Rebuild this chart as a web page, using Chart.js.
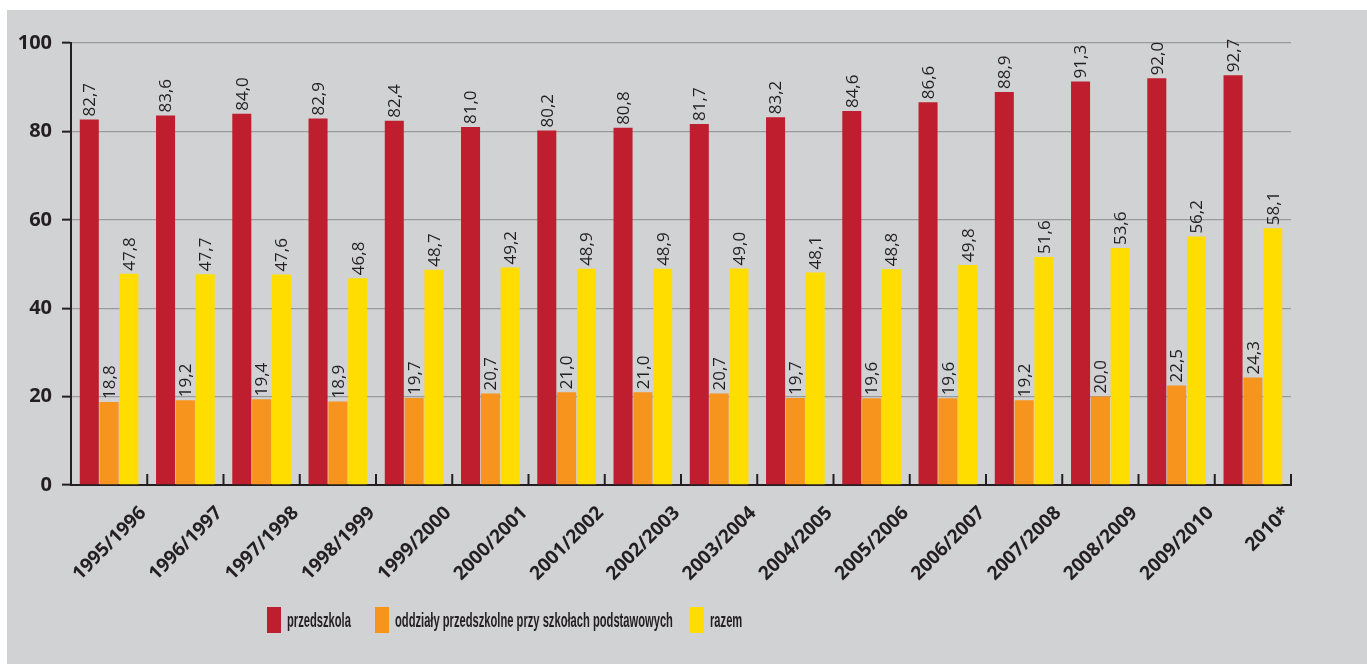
<!DOCTYPE html>
<html>
<head>
<meta charset="utf-8">
<script src="https://cdn.jsdelivr.net/npm/chart.js@4.4.0/dist/chart.umd.min.js"></script>
<style>
  body { margin: 0; background: #ffffff; }
  #panel { position: absolute; left: 7px; top: 10px; width: 1360px; height: 654px; background: #d1d2d4; }
  #wrap { position: absolute; left: 0; top: 0; width: 1367px; height: 664px; }
  #legenda { position: absolute; left: 267px; top: 607px; height: 26px; display: flex; align-items: center;
    font-family: 'Liberation Sans', Arial, sans-serif; font-weight: bold;
    font-size: 20px; color: #231f20; white-space: nowrap; }
  #legenda .box { width: 14px; height: 26px; display: inline-block; margin-right: 6px; }
  #legenda .item { display: flex; align-items: center; }
  #legenda .txt { display: inline-block; transform-origin: left center; }
</style>
</head>
<body>
<div id="panel"></div>
<div id="wrap"><canvas id="myChart" width="1367" height="664"></canvas></div>
<div id="legenda"></div>
<script>
const lata = ['1995/1996','1996/1997','1997/1998','1998/1999','1999/2000','2000/2001','2001/2002','2002/2003',
  '2003/2004','2004/2005','2005/2006','2006/2007','2007/2008','2008/2009','2009/2010','2010*'];
const przedszkola = [82.7,83.6,84.0,82.9,82.4,81.0,80.2,80.8,81.7,83.2,84.6,86.6,88.9,91.3,92.0,92.7];
const oddzialy = [18.8,19.2,19.4,18.9,19.7,20.7,21.0,21.0,20.7,19.7,19.6,19.6,19.2,20.0,22.5,24.3];
const razem = [47.8,47.7,47.6,46.8,48.7,49.2,48.9,48.9,49.0,48.1,48.8,49.8,51.6,53.6,56.2,58.1];
const nazwy = ['przedszkola','oddziały przedszkolne przy szkołach podstawowych','razem'];
const kolory = ['#be1e2d','#f7941d','#ffdd00'];
const osY = [0,20,40,60,80,100];

const ciemny = '#231f20';

// podpisy wartosci nad slupkami
const etykiety = {
    id: 'etykiety',
    afterDatasetsDraw(chart) {
        const ctx = chart.ctx;
        ctx.save();
        ctx.font = '17px "Open Sans"';
        ctx.fillStyle = ciemny;
        ctx.textAlign = 'left';
        ctx.textBaseline = 'middle';
        chart.data.datasets.forEach((ds, i) => {
            chart.getDatasetMeta(i).data.forEach((bar, j) => {
                ctx.save();
                ctx.translate(bar.x + 1, bar.y - 3);
                ctx.rotate(-Math.PI / 2);
                ctx.fillText(ds.data[j].toFixed(1).replace('.', ','), 0, 0);
                ctx.restore();
            });
        });
        ctx.restore();
    }
};

// kreski na osi X miedzy latami
const kreski = {
    id: 'kreski',
    afterDraw(chart) {
        const ctx = chart.ctx;
        const x = chart.scales.x;
        const y0 = chart.scales.y.getPixelForValue(0);
        const w = x.getPixelForValue(1) - x.getPixelForValue(0);
        ctx.save();
        ctx.strokeStyle = ciemny;
        ctx.lineWidth = 2;
        for (let i = 0; i < lata.length; i++) {
            const px = x.getPixelForValue(i) + w / 2;
            ctx.beginPath();
            ctx.moveTo(px, y0 - 11);
            ctx.lineTo(px, y0);
            ctx.stroke();
        }
        ctx.restore();
    }
};

const data = {
    labels: lata,
    datasets: [
        { label: nazwy[0], data: przedszkola, backgroundColor: kolory[0] },
        { label: nazwy[1], data: oddzialy, backgroundColor: kolory[1] },
        { label: nazwy[2], data: razem, backgroundColor: kolory[2] }
    ]
};

const config = {
    type: 'bar',
    data,
    options: {
        responsive: false,
        animation: false,
        layout: { padding: { left: 0, top: 43, right: 76, bottom: 0 } },
        datasets: { bar: { categoryPercentage: 0.78, barPercentage: 0.96 } },
        plugins: { legend: { display: false }, tooltip: { enabled: false } },
        scales: {
            x: {
                grid: { display: false, drawTicks: false },
                border: { display: true, color: ciemny, width: 2 },
                ticks: {
                    color: ciemny, font: { family: 'Open Sans', size: 19, weight: 'bold' },
                    minRotation: 45, maxRotation: 45, autoSkip: false, labelOffset: 34, padding: 17
                },
                afterFit: s => { s.height = 179; }
            },
            y: {
                min: 0, max: 100,
                afterBuildTicks: s => { s.ticks = osY.map(v => ({ value: v })); },
                grid: { color: '#999a9c', lineWidth: 1.3, tickColor: ciemny, tickWidth: 2, tickLength: 9,
                    drawTicks: true },
                border: { display: true, color: ciemny, width: 2 },
                ticks: { color: ciemny, font: { family: 'Open Sans', size: 20, weight: 'bold' }, padding: 10 },
                afterFit: s => { s.width = 71; }
            }
        }
    },
    plugins: [etykiety, kreski]
};

const myChart = new Chart(document.getElementById('myChart'), config);

// legenda w html, tekst zwezony jak w oryginale (krój condensed)
const leg = document.getElementById('legenda');
const odstepy = [24, 17, 0];
const items = nazwy.map((n, i) => {
    const el = document.createElement('span');
    el.className = 'item';
    el.innerHTML = '<span class="box" style="background:' + kolory[i] + '"></span><span class="txt">' + n + '</span>';
    leg.appendChild(el);
    return el;
});
const dlugi = items[1].querySelector('.txt');
const k = 278 / dlugi.offsetWidth;
items.forEach((el, i) => {
    const t = el.querySelector('.txt');
    const w = t.offsetWidth;
    t.style.transform = 'scaleX(' + k + ')';
    t.style.marginRight = (-(1 - k) * w + odstepy[i]) + 'px';
});
</script>
</body>
</html>
